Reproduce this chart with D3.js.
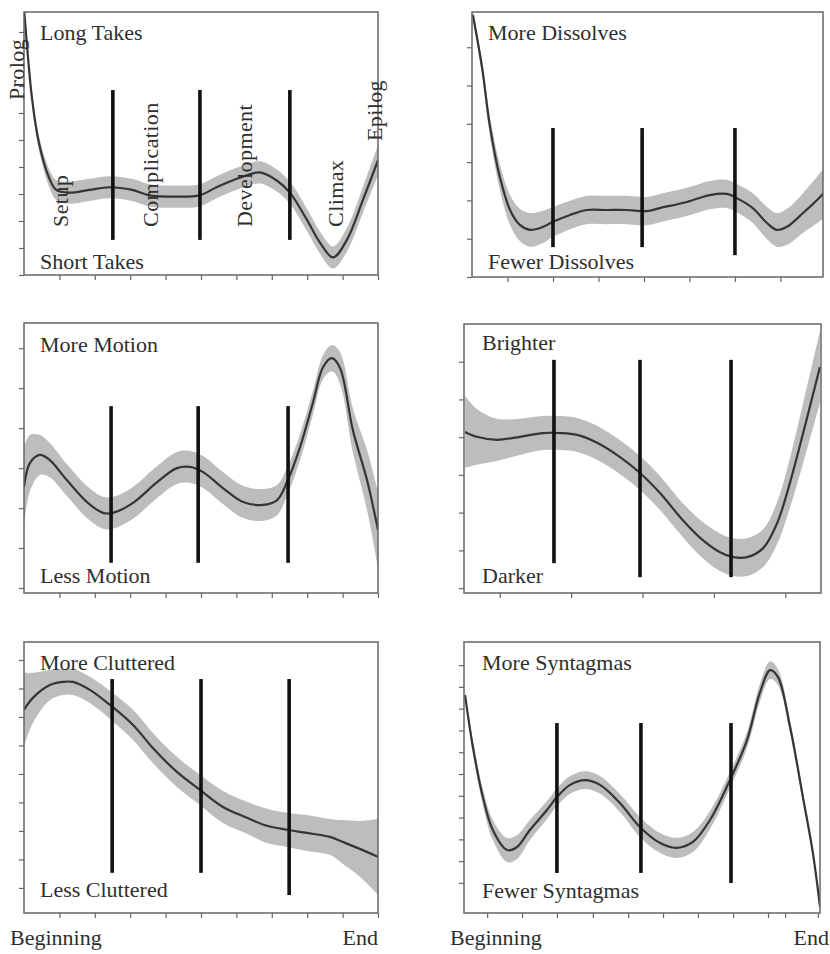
<!DOCTYPE html>
<html>
<head>
<meta charset="utf-8">
<title>Film shape profiles</title>
<style>
body { margin: 0; background: #fff; }
text { font-family: "Liberation Serif", "Times New Roman", serif; font-size: 22px; fill: #2e2e2e; }
.frame { fill: none; stroke: #666; stroke-width: 1.5; }
.band { fill: #bdbdbd; stroke: none; }
.line { fill: none; stroke: #353535; stroke-width: 2.2; }
.bar { stroke: #111; stroke-width: 3.6; }
.axis line { stroke: #666; stroke-width: 1.2; }
.axis path { display: none; }
</style>
</head>
<body>
<svg id="chart" width="830" height="954"></svg>
<script src="https://cdnjs.cloudflare.com/ajax/libs/d3/7.8.5/d3.min.js"></script>
<script>
// position in film (0 = beginning, 1 = end), smoothed value, half width of band
var takesX = [0, 0.023, 0.042, 0.071, 0.091, 0.127, 0.184, 0.241, 0.306, 0.354, 0.431, 0.496, 0.544, 0.609, 0.666, 0.714, 0.751, 0.799, 0.836, 0.873, 0.912, 0.958, 1.0];
var takesY = [9.9, 6.5, 4.9, 3.6, 3.15, 3.05, 3.15, 3.25, 3.15, 2.95, 2.9, 2.95, 3.25, 3.6, 3.8, 3.5, 3.05, 2.05, 1.2, 0.65, 1.3, 2.8, 4.25];
var takesSE = [0.11, 0.19, 0.26, 0.33, 0.37, 0.41, 0.41, 0.41, 0.41, 0.41, 0.41, 0.41, 0.41, 0.41, 0.41, 0.41, 0.41, 0.41, 0.41, 0.41, 0.44, 0.48, 0.56];

var dissolvesX = [0.030, 0.055, 0.077, 0.104, 0.132, 0.159, 0.187, 0.223, 0.250, 0.297, 0.343, 0.398, 0.453, 0.508, 0.544, 0.618, 0.681, 0.728, 0.755, 0.799, 0.838, 0.865, 0.893, 0.937, 0.984, 1.0];
var dissolvesY = [6.84, 5.48, 3.92, 2.61, 1.75, 1.36, 1.23, 1.31, 1.44, 1.62, 1.75, 1.75, 1.75, 1.72, 1.80, 1.96, 2.14, 2.17, 2.06, 1.80, 1.41, 1.23, 1.31, 1.67, 2.09, 2.27];
var dissolvesSE = [0.10, 0.18, 0.26, 0.34, 0.39, 0.42, 0.44, 0.42, 0.39, 0.37, 0.37, 0.37, 0.37, 0.37, 0.37, 0.37, 0.37, 0.37, 0.37, 0.39, 0.42, 0.44, 0.47, 0.52, 0.63, 0.68];

var motionX = [0, 0.017, 0.045, 0.073, 0.121, 0.178, 0.223, 0.251, 0.308, 0.376, 0.432, 0.469, 0.506, 0.562, 0.619, 0.675, 0.715, 0.743, 0.780, 0.816, 0.845, 0.870, 0.893, 0.929, 0.969, 1.0];
var motionY = [2.53, 3.13, 3.33, 3.2, 2.7, 2.15, 1.88, 1.88, 2.13, 2.65, 3.0, 3.03, 2.9, 2.5, 2.15, 2.08, 2.2, 2.65, 3.53, 4.63, 5.53, 5.75, 5.5, 3.95, 2.7, 1.45];
var motionSE = [1.0, 0.7, 0.5, 0.43, 0.4, 0.4, 0.4, 0.4, 0.4, 0.4, 0.4, 0.4, 0.4, 0.4, 0.4, 0.4, 0.38, 0.35, 0.33, 0.3, 0.3, 0.33, 0.4, 0.55, 0.75, 0.95];

var brightX = [0.003, 0.036, 0.092, 0.157, 0.221, 0.269, 0.317, 0.373, 0.437, 0.493, 0.549, 0.613, 0.669, 0.717, 0.754, 0.793, 0.838, 0.877, 0.913, 0.950, 0.997];
var brightY = [4.14, 4.01, 3.93, 4.01, 4.11, 4.11, 4.06, 3.85, 3.47, 3.05, 2.52, 1.80, 1.27, 0.95, 0.82, 0.82, 1.06, 1.72, 2.79, 4.11, 5.86];
var brightSE = [0.95, 0.74, 0.56, 0.48, 0.45, 0.45, 0.45, 0.45, 0.45, 0.45, 0.45, 0.45, 0.48, 0.5, 0.5, 0.5, 0.5, 0.56, 0.66, 0.8, 0.95];

var clutterX = [0, 0.025, 0.073, 0.110, 0.138, 0.186, 0.243, 0.308, 0.364, 0.432, 0.497, 0.562, 0.630, 0.686, 0.743, 0.799, 0.864, 0.901, 0.949, 1.0];
var clutterY = [6.25, 6.67, 7.12, 7.23, 7.23, 6.95, 6.42, 5.72, 4.91, 4.07, 3.44, 2.84, 2.46, 2.18, 2.04, 1.93, 1.79, 1.61, 1.37, 1.09];
var clutterSE = [1.3, 0.88, 0.53, 0.46, 0.46, 0.46, 0.49, 0.53, 0.53, 0.53, 0.53, 0.56, 0.56, 0.6, 0.6, 0.63, 0.63, 0.77, 0.98, 1.33];

var syntagX = [0.003, 0.025, 0.053, 0.081, 0.121, 0.149, 0.185, 0.233, 0.261, 0.298, 0.340, 0.382, 0.438, 0.494, 0.551, 0.598, 0.643, 0.691, 0.747, 0.795, 0.831, 0.860, 0.882, 0.916, 0.952, 0.980, 1.0];
var syntagY = [8.62, 6.24, 3.94, 2.43, 1.51, 1.65, 2.43, 3.35, 3.94, 4.50, 4.72, 4.50, 3.67, 2.57, 1.83, 1.61, 1.88, 2.89, 4.72, 6.56, 8.72, 9.77, 9.45, 7.16, 3.94, 1.38, -1.10];
var syntagSE = [0.18, 0.28, 0.37, 0.46, 0.55, 0.55, 0.46, 0.41, 0.41, 0.41, 0.41, 0.41, 0.41, 0.46, 0.46, 0.46, 0.46, 0.41, 0.37, 0.37, 0.41, 0.41, 0.37, 0.28, 0.23, 0.18, 0.14];

// act boundaries: position, top, bottom
var takesBars = [0.251, 0.497, 0.751], takesBarTop = [6.85, 6.85, 6.85], takesBarBottom = [1.3, 1.3, 1.3];
var dissolvesBars = [0.25, 0.495, 0.75], dissolvesBarTop = [3.89, 3.89, 3.89], dissolvesBarBottom = [0.78, 0.78, 0.57];
var motionBars = [0.246, 0.492, 0.746], motionBarTop = [4.55, 4.55, 4.55], motionBarBottom = [0.63, 0.63, 0.63];
var brightBars = [0.252, 0.493, 0.748], brightBarTop = [6.05, 6.05, 6.05], brightBarBottom = [0.66, 0.29, 0.29];
var clutterBars = [0.249, 0.5, 0.749], clutterBarTop = [7.33, 7.33, 7.33], clutterBarBottom = [0.53, 0.53, -0.25];
var syntagBars = [0.261, 0.497, 0.75], syntagBarTop = [7.34, 7.34, 7.34], syntagBarBottom = [0.46, 0.46, 0];

// tick values
var tenthTicks = [0.1, 0.2, 0.3, 0.4, 0.5, 0.6, 0.7, 0.8, 0.9, 1.0];
var eighthTicks = [0.125, 0.25, 0.375, 0.5, 0.625, 0.75, 0.875];
var oddTenthTicks = [0.1, 0.3, 0.5, 0.7, 0.9];
var syntagXTicks = [0.065, 0.163, 0.261, 0.362, 0.461, 0.559, 0.657, 0.756, 0.854, 0.902, 0.994];

// stage names in the first panel
var stageNames = ["Prolog", "Setup", "Complication", "Development", "Climax", "Epilog"];
var stageX = [0.0, 0.124, 0.379, 0.644, 0.901, 1.011];
var stageY = [6.48, 1.78, 1.78, 1.78, 1.78, 4.96];

var panels = [
  { x: takesX, y: takesY, se: takesSE, bars: takesBars, barTop: takesBarTop, barBottom: takesBarBottom,
    high: "Long Takes", low: "Short Takes", xDomain: [0, 1], yDomain: [0, 9.74],
    xTicks: tenthTicks, yTicks: d3.range(0, 10) },
  { x: dissolvesX, y: dissolvesY, se: dissolvesSE, bars: dissolvesBars, barTop: dissolvesBarTop, barBottom: dissolvesBarBottom,
    high: "More Dissolves", low: "Fewer Dissolves", xDomain: [0.0275, 0.992], yDomain: [0, 6.92],
    xTicks: eighthTicks, yTicks: d3.range(0, 7) },
  { x: motionX, y: motionY, se: motionSE, bars: motionBars, barTop: motionBarTop, barBottom: motionBarBottom,
    high: "More Motion", low: "Less Motion", xDomain: [0, 1], yDomain: [-0.125, 6.63],
    xTicks: tenthTicks, yTicks: d3.range(0, 7) },
  { x: brightX, y: brightY, se: brightSE, bars: brightBars, barTop: brightBarTop, barBottom: brightBarBottom,
    high: "Brighter", low: "Darker", xDomain: [0, 1], yDomain: [-0.13, 7.0],
    xTicks: oddTenthTicks, yTicks: d3.range(0, 7) },
  { x: clutterX, y: clutterY, se: clutterSE, bars: clutterBars, barTop: clutterBarTop, barBottom: clutterBarBottom,
    high: "More Cluttered", low: "Less Cluttered", xDomain: [0, 1], yDomain: [-0.88, 8.63],
    xTicks: tenthTicks, yTicks: d3.range(0, 9) },
  { x: syntagX, y: syntagY, se: syntagSE, bars: syntagBars, barTop: syntagBarTop, barBottom: syntagBarBottom,
    high: "More Syntagmas", low: "Fewer Syntagmas", xDomain: [0, 1], yDomain: [-1.38, 11.06],
    xTicks: syntagXTicks, yTicks: d3.range(0, 11) }
];

// pixel boxes of the six frames and where their corner labels sit
var layout = [
  { left: 24, top: 12, right: 378, bottom: 275, labelX: 40, highY: 40, lowY: 269 },
  { left: 472, top: 12, right: 823, bottom: 277, labelX: 488, highY: 40, lowY: 269 },
  { left: 24, top: 323, right: 378, bottom: 593, labelX: 40, highY: 352, lowY: 583 },
  { left: 464, top: 324, right: 821, bottom: 593, labelX: 482, highY: 350, lowY: 583 },
  { left: 24, top: 642, right: 378, bottom: 913, labelX: 40, highY: 670, lowY: 897 },
  { left: 464, top: 642, right: 820, bottom: 913, labelX: 482, highY: 670, lowY: 898 }
];

var svg = d3.select("#chart");

panels.forEach(function(p, i) {
  var box = layout[i];
  var x = d3.scaleLinear().domain(p.xDomain).range([box.left, box.right]);
  var y = d3.scaleLinear().domain(p.yDomain).range([box.bottom, box.top]);

  var pts = p.x.map(function(d, j) {
    return { x: d, y: p.y[j], se: p.se[j] };
  });

  var g = svg.append("g");

  g.append("clipPath")
    .attr("id", "clip" + i)
    .append("rect")
    .attr("x", box.left)
    .attr("y", box.top)
    .attr("width", box.right - box.left)
    .attr("height", box.bottom - box.top);

  var inner = g.append("g").attr("clip-path", "url(#clip" + i + ")");

  var area = d3.area()
    .x(function(d) { return x(d.x); })
    .y0(function(d) { return y(d.y - d.se); })
    .y1(function(d) { return y(d.y + d.se); })
    .curve(d3.curveCatmullRom);

  var line = d3.line()
    .x(function(d) { return x(d.x); })
    .y(function(d) { return y(d.y); })
    .curve(d3.curveCatmullRom);

  inner.append("path").datum(pts).attr("class", "band").attr("d", area);
  inner.append("path").datum(pts).attr("class", "line").attr("d", line);

  g.selectAll(".bar")
    .data(p.bars)
    .enter().append("line")
    .attr("class", "bar")
    .attr("x1", function(d) { return x(d); })
    .attr("x2", function(d) { return x(d); })
    .attr("y1", function(d, j) { return y(p.barTop[j]); })
    .attr("y2", function(d, j) { return y(p.barBottom[j]); });

  g.append("g")
    .attr("class", "axis")
    .attr("transform", "translate(0," + box.bottom + ")")
    .call(d3.axisBottom(x).tickValues(p.xTicks).tickSize(5).tickFormat(""));

  g.append("g")
    .attr("class", "axis")
    .attr("transform", "translate(" + box.left + ",0)")
    .call(d3.axisLeft(y).tickValues(p.yTicks).tickSize(5).tickFormat(""));

  g.append("rect")
    .attr("class", "frame")
    .attr("x", box.left)
    .attr("y", box.top)
    .attr("width", box.right - box.left)
    .attr("height", box.bottom - box.top);

  g.append("text").attr("x", box.labelX).attr("y", box.highY).text(p.high);
  g.append("text").attr("x", box.labelX).attr("y", box.lowY).text(p.low);

  // first panel carries the stage names, written upward
  if (i === 0) {
    g.selectAll(".stage")
      .data(stageNames)
      .enter().append("text")
      .attr("class", "stage")
      .attr("transform", function(d, j) {
        return "translate(" + x(stageX[j]) + "," + y(stageY[j]) + ") rotate(-90)";
      })
      .style("letter-spacing", "0.4px")
      .text(function(d) { return d; });
  }
});

// beginning / end under the bottom row
var endRight = [378, 829];
[layout[4], layout[5]].forEach(function(box, k) {
  svg.append("text").attr("x", box.left - 14).attr("y", 945).text("Beginning");
  svg.append("text").attr("x", endRight[k]).attr("y", 945)
    .attr("text-anchor", "end").text("End");
});
</script>
</body>
</html>
